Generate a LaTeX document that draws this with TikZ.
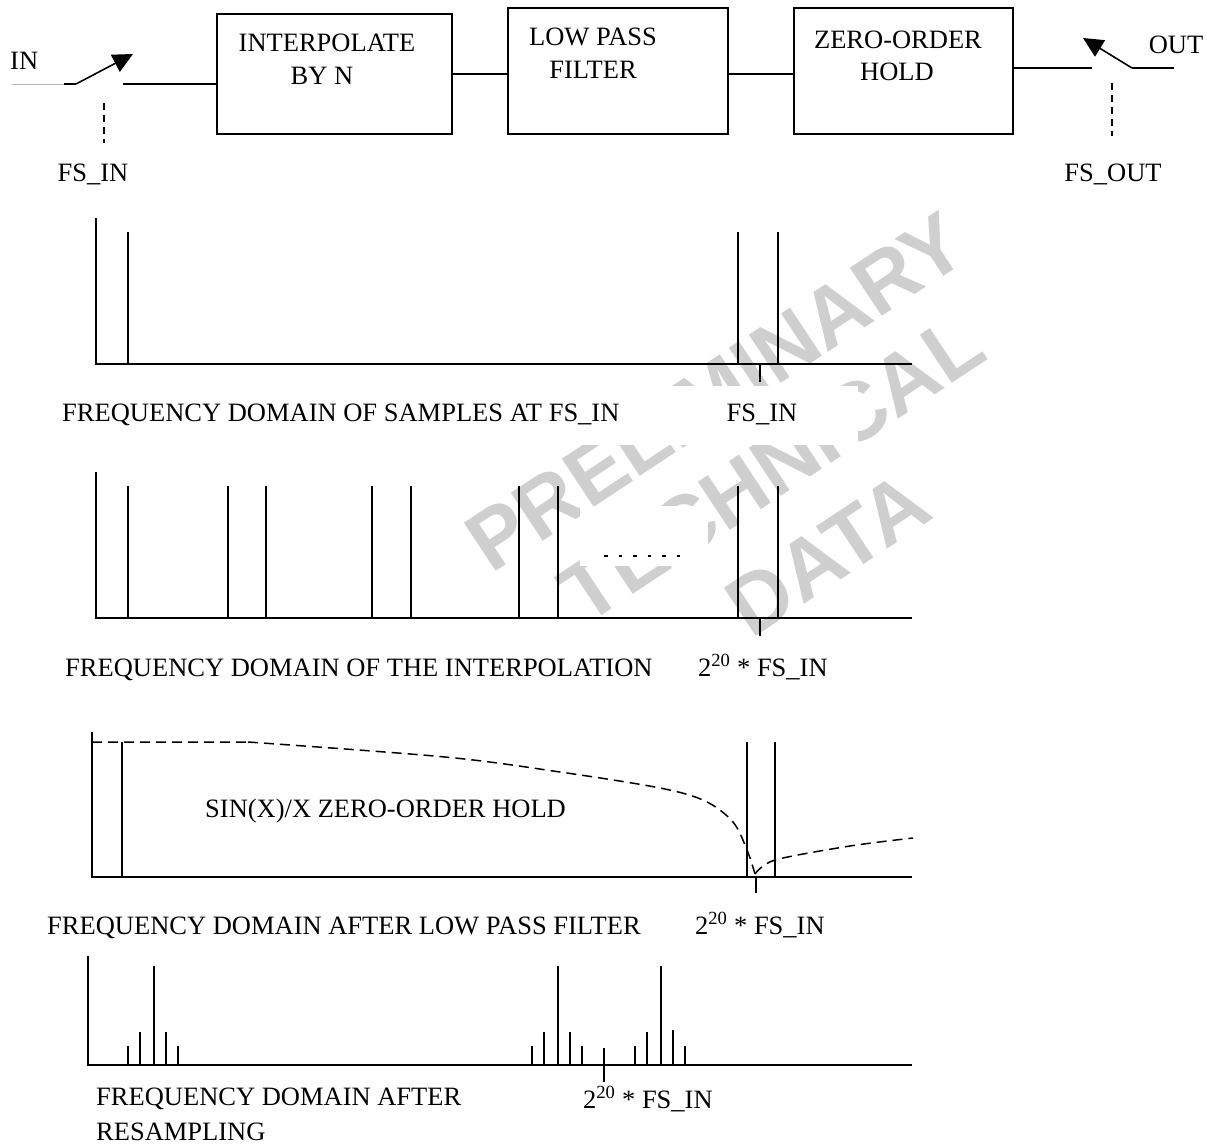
\documentclass[tikz,border=0pt]{standalone}
\usepackage{fontspec}
\setmainfont{Liberation Serif}
\newfontfamily\wmfont{Liberation Sans}
\usetikzlibrary{arrows.meta}
\begin{document}
\begin{tikzpicture}[x=1pt,y=-1pt,
  every node/.style={font=\fontsize{26.5}{30}\selectfont, inner sep=0pt},
  lbl/.style={anchor=base west},
  lblc/.style={anchor=base},
  wire/.style={line width=1.6pt},
  axis/.style={line width=1.8pt},
  bar/.style={line width=1.4pt},
  ctl/.style={line width=1.4pt, dash pattern=on 7pt off 5pt},
  zoh/.style={line width=1.5pt, dash pattern=on 10pt off 6pt},
  wm/.style={font=\wmfont\bfseries\fontsize{84}{90}\selectfont, text=black!19, rotate=33.5},
  sw/.style={line width=1.6pt, -{Triangle[length=20pt,width=19pt]}}
]
\useasboundingbox (0,0) rectangle (1207,1147);
\fill[white] (0,0) rectangle (1207,1147);

% watermark
\node[wm] (wm1) at (716,392) {PRELIMINARY};
\node[wm] (wm2) at (772,468) {TECHNICAL};
\node[wm] (wm3) at (828,554) {DATA};

% ---------- block diagram ----------
\node[draw, line width=1.6pt, minimum width=235pt, minimum height=120pt] (b1) at (334.5,74) {};
\node[draw, line width=1.6pt, minimum width=220pt, minimum height=126pt] (b2) at (618,71) {};
\node[draw, line width=1.6pt, minimum width=219pt, minimum height=126pt] (b3) at (903.5,71) {};
\node[lblc] (t1a) at (327,52) {INTERPOLATE};
\node[lblc] (t1b) at (322,85) {BY N};
\node[lblc] (t2a) at (593,46) {LOW PASS};
\node[lblc] (t2b) at (593,79) {FILTER};
\node[lblc] (t3a) at (898,49) {ZERO-ORDER};
\node[lblc] (t3b) at (897,81) {HOLD};

% input switch
\node[lbl] (in) at (10,70) {IN};
\coordinate (i0) at (12,84);
\coordinate (i1) at (64,84);
\coordinate (i2) at (76,84);
\coordinate (i3) at (133,54);
\coordinate (i4) at (123,84);
\draw[line width=0.9pt, black!30] (i0) -- (i1);
\draw[wire] (i1) -- (i2);
\draw[sw] (i2) -- (i3);
\draw[wire] (i4) -- (b1.west |- i4);
\coordinate (c1a) at (104,103);
\coordinate (c1b) at (104,143);
\draw[ctl] (c1a) -- (c1b);
\node[lblc] (fsin) at (93,182) {FS\_IN};

% block links
\coordinate (l12) at (0,74);
\draw[wire] (b1.east |- l12) -- (b2.west |- l12);
\draw[wire] (b2.east |- l12) -- (b3.west |- l12);

% output switch
\coordinate (o0) at (1092,68);
\coordinate (o1) at (1132,68);
\coordinate (o2) at (1083,38);
\coordinate (o3) at (1174,68);
\draw[wire] (b3.east |- o0) -- (o0);
\draw[wire] (o3) -- (o1);
\draw[sw] (o1) -- (o2);
\coordinate (c2a) at (1112,83);
\coordinate (c2b) at (1112,136);
\draw[ctl] (c2a) -- (c2b);
\node[lblc] (fsout) at (1113,182) {FS\_OUT};
\node[lblc] (out) at (1176,54) {OUT};

% ---------- plot 1 ----------
\fill[white] (58,386) rectangle (858,445);
\draw[axis] (96,218) -- (96,364) -- (912,364);
\foreach \x in {128,738,778} \draw[bar] (\x,232) -- (\x,364);
\draw[bar] (760,364) -- (760,382);
\node[lbl] (cap1) at (62,421) {FREQUENCY DOMAIN OF SAMPLES AT FS\_IN};
\node[lblc] (fs1) at (762,421) {FS\_IN};

% ---------- plot 2 ----------
\draw[axis] (96,472) -- (96,618) -- (912,618);
\foreach \x in {128,228,266,372,411,519,558,738,778} \draw[bar] (\x,486) -- (\x,618);
\fill[white] (580,506) rectangle (708,566);
\draw[line width=1.2pt, dash pattern=on 3.5pt off 11pt] (604,556) -- (680,556);
\draw[bar] (760,618) -- (760,636);
\node[lbl] (cap2) at (65,676) {FREQUENCY DOMAIN OF THE INTERPOLATION};
\node[lbl] (fs2) at (698,676) {2\textsuperscript{20} * FS\_IN};

% ---------- plot 3 ----------
\draw[axis] (92,732) -- (92,877) -- (912,877);
\draw[bar] (122,742) -- (122,877);
\draw[bar] (747,742) -- (747,877);
\draw[bar] (775,742) -- (775,877);
\draw[bar] (756,877) -- (756,893);
\draw[zoh] (92,742) -- (248,742)
  plot[smooth, tension=0.55] coordinates {(248,742) (445,757) (560,772) (660,788) (705,801) (733,822) (747,850) (755,874)};
\draw[zoh] plot[smooth, tension=0.5] coordinates {(755,874) (775,860) (850,846) (913,838)};
\node[lbl] (zohl) at (205,817) {SIN(X)/X ZERO-ORDER HOLD};
\node[lbl] (cap3) at (47,934) {FREQUENCY DOMAIN AFTER LOW PASS FILTER};
\node[lbl] (fs3) at (695,934) {2\textsuperscript{20} * FS\_IN};

% ---------- plot 4 ----------
\draw[axis] (88,956) -- (88,1065) -- (912,1065);
\foreach \x/\t in {128/1046,140/1032,154/966,166/1032,178/1046,
                   532/1046,544/1032,558/966,570/1032,582/1046,
                   635/1046,647/1032,661/966,673/1030,685/1046}
  \draw[bar] (\x,\t) -- (\x,1065);
\draw[bar] (604,1048) -- (604,1082);
\node[lbl] (cap4a) at (96,1105) {FREQUENCY DOMAIN AFTER};
\node[lbl] (cap4b) at (96,1140) {RESAMPLING};
\node[lbl] (fs4) at (583,1108) {2\textsuperscript{20} * FS\_IN};
\end{tikzpicture}
\end{document}
